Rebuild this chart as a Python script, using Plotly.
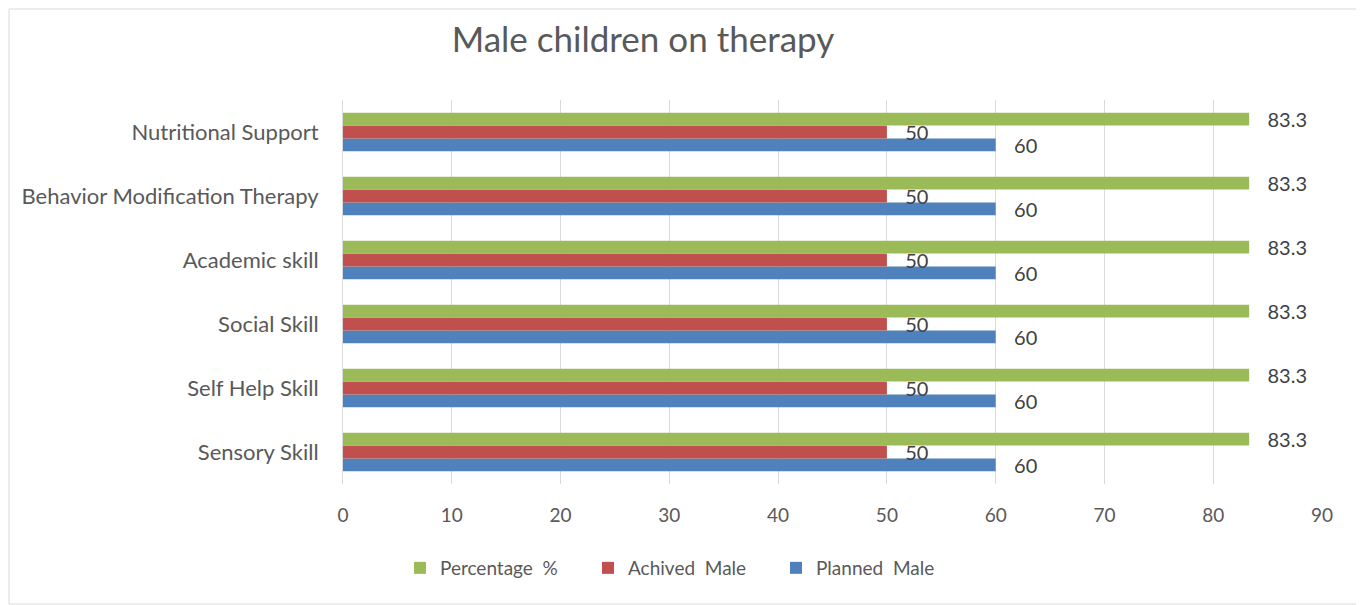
import plotly.graph_objects as go

categories = ["Sensory Skill", "Self Help Skill", "Social Skill", "Academic skill",
              "Behavior Modification Therapy", "Nutritional Support"]
planned_male = [60, 60, 60, 60, 60, 60]
achived_male = [50, 50, 50, 50, 50, 50]
percentage = [83.3, 83.3, 83.3, 83.3, 83.3, 83.3]
x_ticks = [0, 10, 20, 30, 40, 50, 60, 70, 80, 90]

# page body has an 8px margin, so the figure is a little smaller and offset
W, H = 1356, 597
ml, mr, mt, mb = 335, 42, 92, 121
pw = W - ml - mr
ph = H - mt - mb
font_family = "Lato, Open Sans, sans-serif"
txt = "#595959"

fig = go.Figure()
series = [("Planned  Male", planned_male, "#4f81bd"),
          ("Achived  Male", achived_male, "#c0504d"),
          ("Percentage  %", percentage, "#9bbb59")]
for name, vals, col in series:
    fig.add_trace(go.Bar(
        y=categories, x=vals, name=name, orientation="h",
        marker=dict(color=col, line=dict(width=0)),
        texttemplate="   %{x}", textposition="outside", constraintext="none",
        textfont=dict(size=20, color="#404040", family=font_family),
        cliponaxis=False,
    ))

fig.update_layout(
    width=W, height=H,
    margin=dict(l=ml, r=mr, t=mt, b=mb),
    paper_bgcolor="white", plot_bgcolor="white",
    barmode="group", bargap=0.4, bargroupgap=0,
    font=dict(family=font_family, color=txt, size=19),
    title=dict(text="Male children on therapy", x=635 / W, xanchor="center",
               y=1 - 32 / H, yanchor="middle",
               font=dict(size=35, color=txt, family=font_family)),
    legend=dict(orientation="h", x=(392 - ml) / pw, xanchor="left",
                y=-(560 - (H - mb)) / ph, yanchor="middle",
                traceorder="reversed", font=dict(size=19, color=txt),
                itemwidth=30, entrywidth=143, entrywidthmode="pixels"),
    showlegend=True,
    xaxis=dict(range=[0, 90], tickvals=x_ticks, showgrid=True, gridcolor="#d9d9d9",
               gridwidth=1, zeroline=False, showline=False, ticks="",
               ticklabelstandoff=18,
               tickfont=dict(size=19, color=txt)),
    yaxis=dict(showgrid=False, showline=True, linecolor="#d9d9d9", ticks="",
               ticklabelstandoff=19,
               tickfont=dict(size=22, color=txt)),
)
fig.add_shape(type="rect", xref="paper", yref="paper",
              x0=-(ml - 1) / pw, x1=1 + (mr - 1) / pw,
              y0=-(mb - 1) / ph, y1=1 + (mt - 1) / ph,
              line=dict(color="#d9d9d9", width=1), fillcolor="rgba(0,0,0,0)")
fig.write_html("out.html")
